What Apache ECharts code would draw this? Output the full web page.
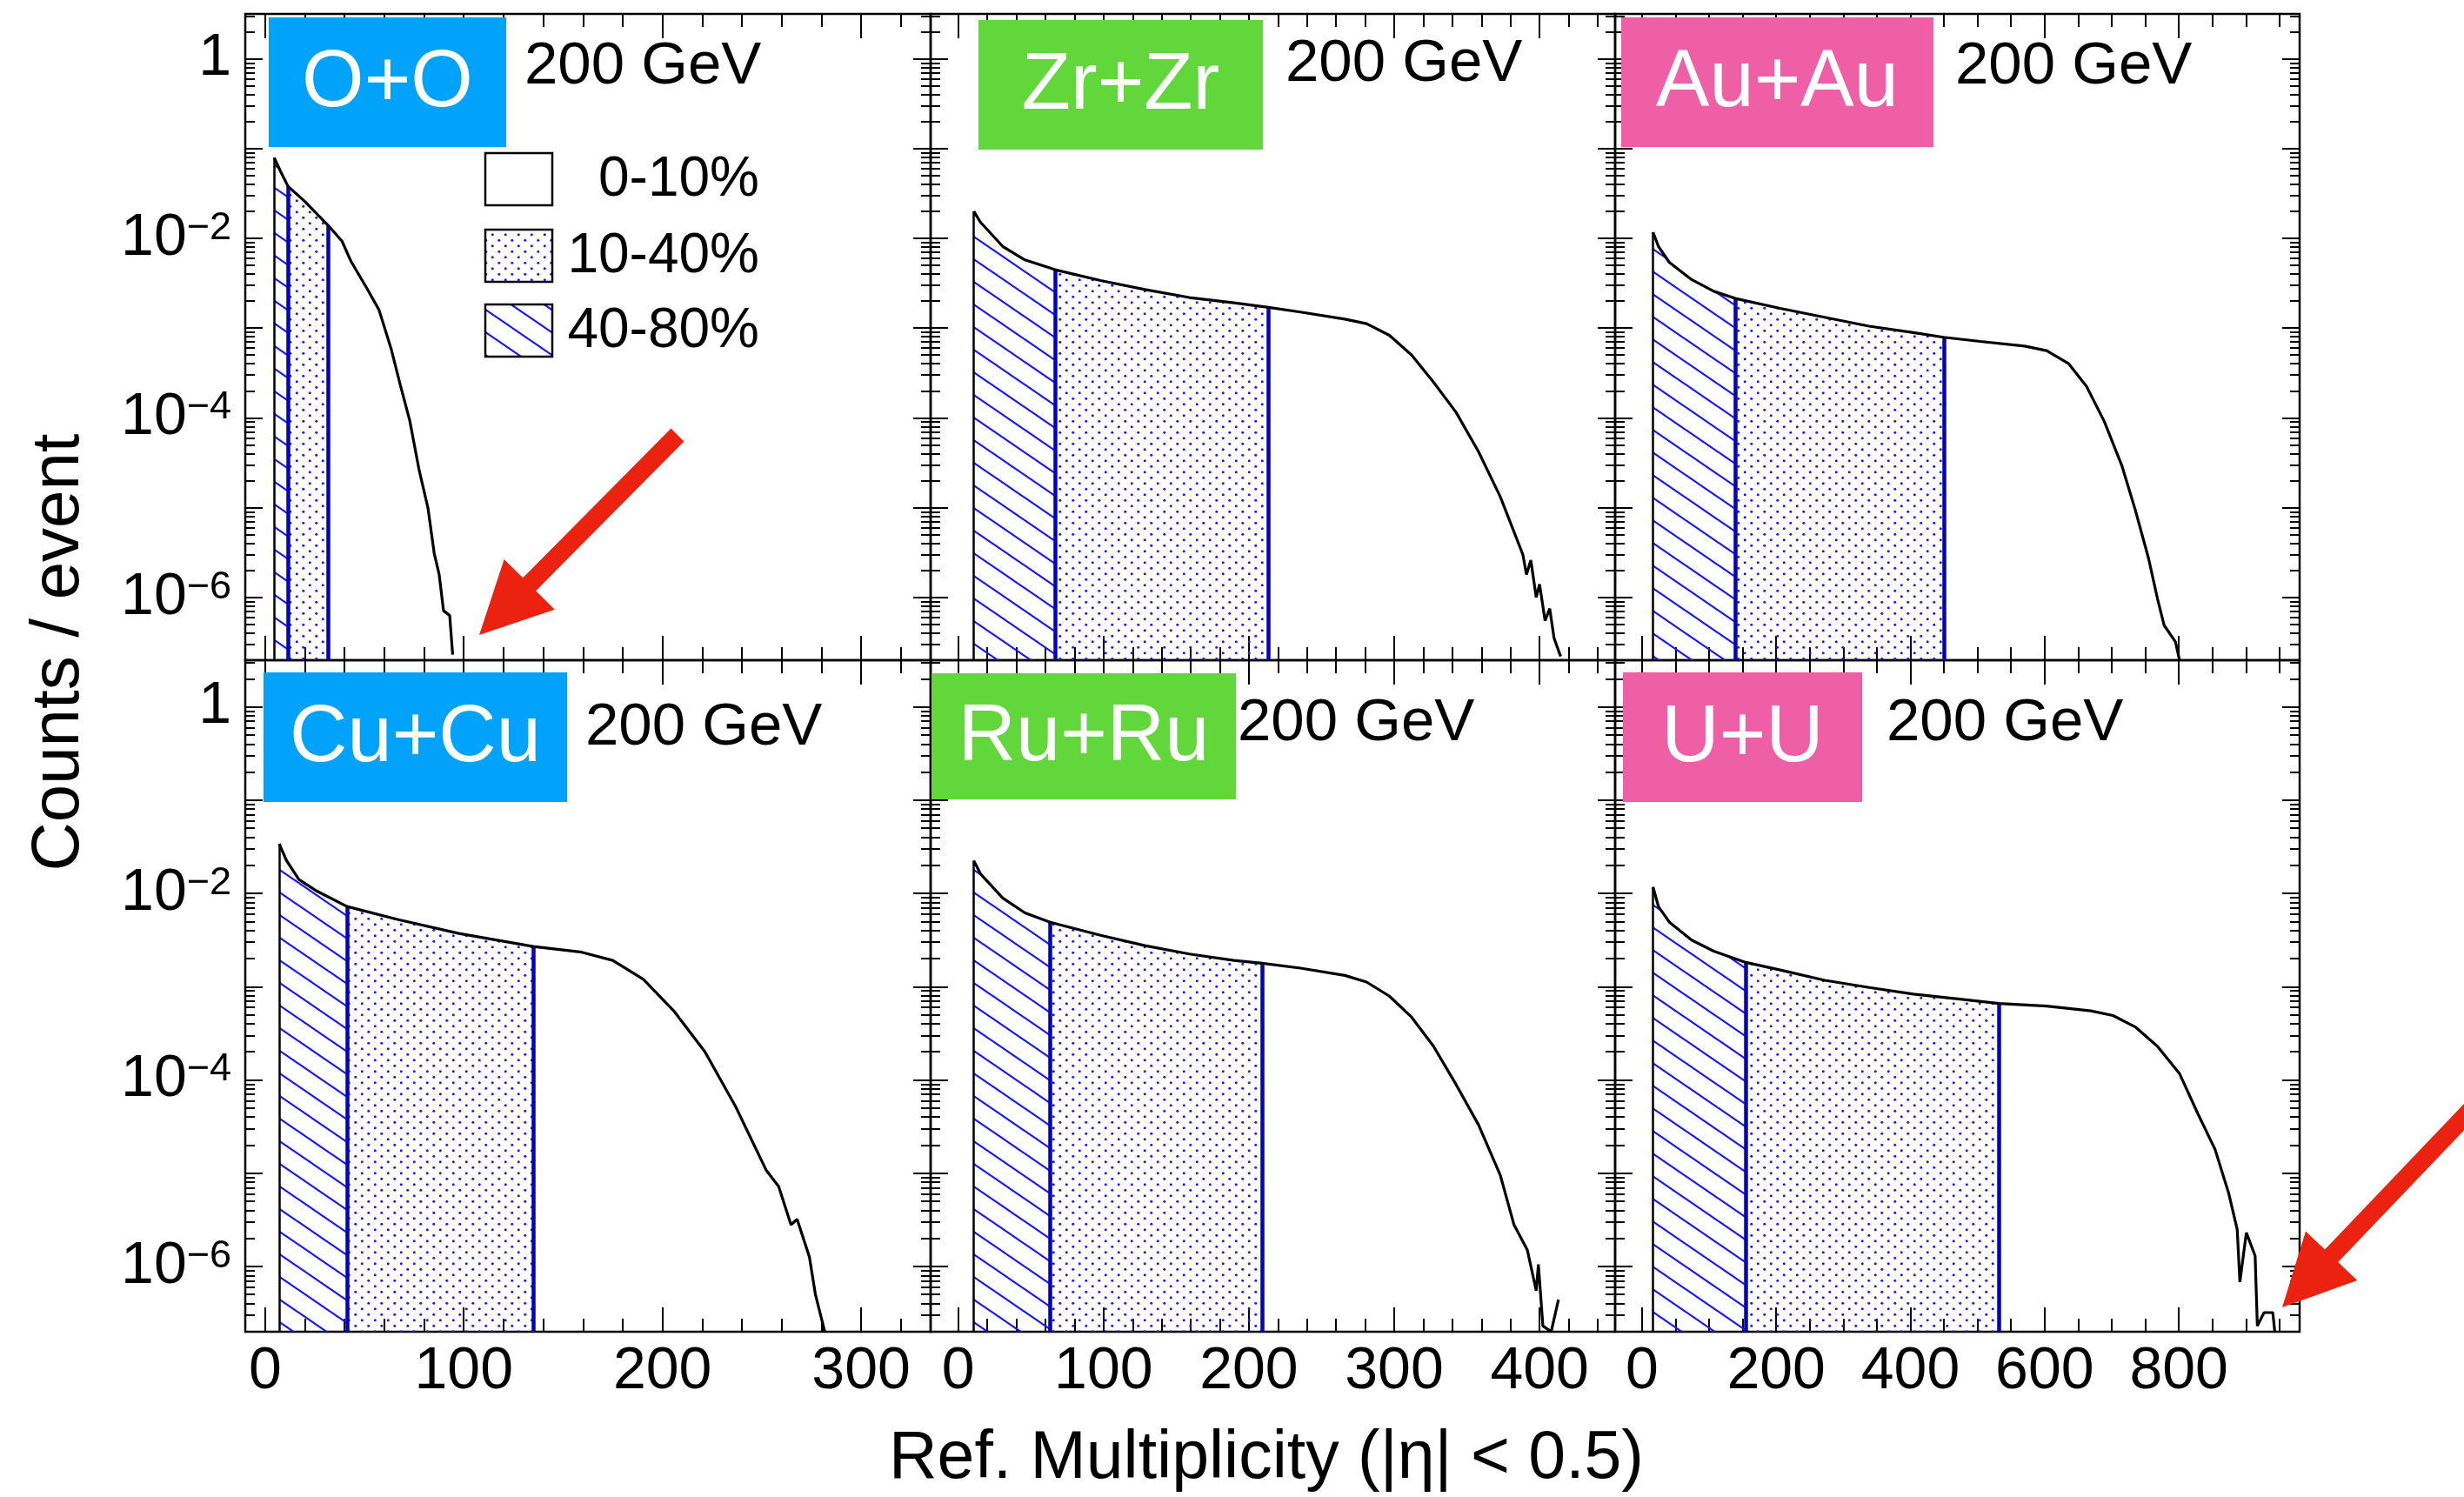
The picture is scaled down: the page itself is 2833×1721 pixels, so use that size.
<!DOCTYPE html>
<html>
<head>
<meta charset="utf-8">
<script src="https://cdn.jsdelivr.net/npm/echarts@6/dist/echarts.min.js"></script>
<style>
  html, body { margin: 0; padding: 0; background: #fff; }
  #chart { width: 2833px; height: 1721px; }
</style>
</head>
<body>
<div id="chart"></div>
<script>
// reference multiplicity (x) and counts per event (y)
const ooX = [4.6, 7.7, 11.5, 20, 31.9, 38.7, 43.3, 51.1, 57.3, 63.5, 68.1, 72.8, 77.4, 82.0, 85.1, 87.6, 89.8, 92.9, 94.4];
const ooY = [0.079, 0.056, 0.038, 0.0257, 0.0138, 0.0093, 0.0055, 0.0028, 0.0016, 5.8e-4, 2.3e-4, 9.3e-5, 2.7e-5, 9.8e-6, 3.1e-6, 1.8e-6, 7.1e-7, 6.3e-7, 2.3e-7];
const ooCut = [4.6, 11.5, 31.9];

const zrX = [10.7, 15.3, 30.6, 45.9, 66.7, 97.9, 128.5, 159, 189.7, 213.5, 235.5, 266, 281, 296.7, 312, 327, 342.6, 358, 373, 388.5, 391, 394, 397.7, 400, 403.8, 407, 410, 414.5];
const zrY = [0.0200, 0.0151, 0.00813, 0.00575, 0.00447, 0.00339, 0.00269, 0.00219, 0.00191, 0.00170, 0.00151, 0.00126, 0.00112, 8.3e-4, 5.0e-4, 2.5e-4, 1.15e-4, 4.2e-5, 1.32e-5, 3.0e-6, 1.8e-6, 2.6e-6, 1.0e-6, 1.4e-6, 5.5e-7, 7.5e-7, 3.5e-7, 2.2e-7];
const zrCut = [10.7, 66.7, 213.5];

const auX = [16.5, 24.5, 41, 74, 107, 139, 206, 272, 338.5, 404.6, 449.6, 504, 570, 603, 636, 662.5, 689, 715, 735, 755, 768, 778, 795, 801];
const auY = [0.0117, 0.00813, 0.00537, 0.00347, 0.00257, 0.00214, 0.00166, 0.00132, 0.00105, 8.9e-4, 7.9e-4, 7.1e-4, 6.3e-4, 5.6e-4, 4.0e-4, 2.24e-4, 9.1e-5, 2.95e-5, 9.5e-6, 2.7e-6, 9.8e-7, 4.9e-7, 3.2e-7, 2.0e-7];
const auCut = [16.5, 139, 449.6];

const cuX = [7.1, 10.8, 17, 26.3, 41.2, 66.6, 97.5, 135, 159.4, 175, 190.4, 206, 221.4, 236.8, 252.3, 258.5, 264.7, 267.8, 274, 277, 281.7];
const cuY = [0.0339, 0.0224, 0.0141, 0.0105, 0.00724, 0.00525, 0.00372, 0.00269, 0.00234, 0.00191, 0.00120, 5.4e-4, 2.0e-4, 5.2e-5, 1.07e-5, 7.2e-6, 2.8e-6, 3.2e-6, 1.26e-6, 5.0e-7, 1.9e-7];
const cuCut = [7.1, 41.2, 135];

const ruX = [10.7, 15.3, 30.6, 45.9, 63.3, 97.9, 128.5, 159, 189.7, 209, 235.5, 266, 281, 296.7, 312, 327, 342.6, 358, 373, 382.4, 391.6, 397.7, 399.2, 402.3, 408, 413];
const ruY = [0.0224, 0.0162, 0.00891, 0.00617, 0.0049, 0.00355, 0.00275, 0.00224, 0.00191, 0.00178, 0.00158, 0.00132, 0.00112, 7.9e-4, 4.7e-4, 2.3e-4, 8.9e-5, 3.3e-5, 9.5e-6, 2.8e-6, 1.5e-6, 5.5e-7, 1.05e-6, 2.3e-7, 2.0e-7, 4.4e-7];
const ruCut = [10.7, 63.3, 209];

const uuX = [16.5, 24.5, 41, 74, 107, 154.7, 206, 272.4, 338.5, 404.6, 470.7, 532, 603, 669, 702, 735, 768, 801, 828, 854, 874, 887, 891, 900.6, 913.7, 917, 927, 940, 943];
const uuY = [0.0117, 0.00724, 0.0049, 0.00316, 0.0024, 0.00182, 0.00151, 0.00117, 9.8e-4, 8.3e-4, 7.4e-4, 6.6e-4, 6.2e-4, 5.5e-4, 4.9e-4, 3.7e-4, 2.3e-4, 1.17e-4, 4.4e-5, 1.8e-5, 6.2e-6, 2.5e-6, 6.8e-7, 2.3e-6, 1.3e-6, 2.3e-7, 3.2e-7, 3.2e-7, 2.0e-7];
const uuCut = [16.5, 154.7, 532];

// axis ranges and tick labels per column
const xRanges = [[-10, 335], [-19, 452], [-40, 980]];
const xMajors = [[0, 100, 200, 300], [0, 100, 200, 300, 400], [0, 200, 400, 600, 800]];
const xMinorSteps = [20, 20, 50];
const yMajors = [-6, -5, -4, -3, -2, -1, 0];
const yLabels = [-6, -4, -2, 0];
const yMinLog = -6.7, yMaxLog = 0.5;

const systems = ['O+O', 'Zr+Zr', 'Au+Au', 'Cu+Cu', 'Ru+Ru', 'U+U'];
const energyText = '200 GeV';
const legendNames = ['0-10%', '10-40%', '40-80%'];

// layout (pixels)
const colLeft = [282, 1070, 1857];
const colW = [788, 787, 787];
const rowTop = [16, 759];
const rowH = [743, 772];
const FONT = '"Liberation Sans", Arial, Helvetica, sans-serif';
const tagColors = ['#00A2FA', '#62D73B', '#EE5FA5', '#00A2FA', '#62D73B', '#EE5FA5'];
const tagBoxes = [[309, 20, 273, 149], [1125, 23, 327, 149], [1864, 20, 359, 149],
                  [303, 773, 349, 149], [1071, 774, 350, 145], [1866, 773, 275, 149]];
const energyPos = [[603, 77], [1478, 74], [2248, 77], [673, 837], [1423, 832], [2169, 832]];

const panelData = [[ooX, ooY, ooCut], [zrX, zrY, zrCut], [auX, auY, auCut],
                   [cuX, cuY, cuCut], [ruX, ruY, ruCut], [uuX, uuY, uuCut]];

function toLog(v) { return v > 0 ? Math.max(Math.log10(v), yMinLog) : yMinLog; }

function minorTicks(lo, hi, step, majors) {
  const out = [];
  for (let v = Math.ceil(lo / step) * step; v <= hi; v += step) {
    if (majors.indexOf(v) < 0) out.push(v);
  }
  return out;
}
const yMinors = [];
for (let n = -7; n <= 0; n++) {
  for (let k = 2; k <= 9; k++) {
    const v = n + Math.log10(k);
    if (v > yMinLog && v < yMaxLog) yMinors.push(v);
  }
}

// fill patterns
function hatchTile() {
  const c = document.createElement('canvas');
  c.width = 38; c.height = 26;
  const g = c.getContext('2d');
  g.strokeStyle = '#1616ff';
  g.lineWidth = 2.2;
  [-26, 0, 26].forEach(function (dy) {
    g.beginPath();
    g.moveTo(-2, dy - 2 * 26 / 38);
    g.lineTo(40, dy + 26 + 2 * 26 / 38);
    g.stroke();
  });
  return c;
}
function dotTile() {
  const c = document.createElement('canvas');
  c.width = 15; c.height = 13;
  const g = c.getContext('2d');
  g.fillStyle = '#1a1aff';
  [[3.75, 3.25], [11.25, 9.75]].forEach(function (p) {
    g.beginPath();
    g.arc(p[0], p[1], 1.5, 0, Math.PI * 2);
    g.fill();
  });
  return c;
}
const hatch = { image: hatchTile(), repeat: 'repeat' };
const dots = { image: dotTile(), repeat: 'repeat' };

const grids = [], xAxes = [], yAxes = [], series = [];
const tickStyle = { color: '#000', width: 2 };

panelData.forEach(function (pd, i) {
  const r = Math.floor(i / 3), c = i % 3;
  grids.push({
    left: colLeft[c], top: rowTop[r], width: colW[c], height: rowH[r],
    show: true, borderColor: '#000', borderWidth: 2.5, backgroundColor: 'transparent',
    containLabel: false, outerBoundsMode: 'none'
  });
  const xr = xRanges[c];
  const xMin = minorTicks(xr[0], xr[1], xMinorSteps[c], xMajors[c]);
  ['bottom', 'top'].forEach(function (pos) {
    [[xMajors[c], 28], [xMin, 15]].forEach(function (t, j) {
      xAxes.push({
        gridIndex: i, type: 'value', position: pos, min: xr[0], max: xr[1],
        splitLine: { show: false }, axisLine: { show: false, onZero: false },
        axisTick: { show: true, inside: true, length: t[1], customValues: t[0], lineStyle: tickStyle },
        axisLabel: (pos === 'bottom' && j === 0 && r === 1) ? {
          show: true, customValues: xMajors[c], margin: 12, color: '#000',
          fontSize: 68, fontFamily: FONT
        } : { show: false }
      });
    });
  });
  ['left', 'right'].forEach(function (pos) {
    [[yMajors, 20], [yMinors, 11]].forEach(function (t, j) {
      yAxes.push({
        gridIndex: i, type: 'value', position: pos, min: yMinLog, max: yMaxLog,
        splitLine: { show: false }, axisLine: { show: false, onZero: false },
        axisTick: { show: true, inside: true, length: t[1], customValues: t[0], lineStyle: tickStyle },
        axisLabel: (pos === 'left' && j === 0 && c === 0) ? {
          show: true, customValues: yLabels, margin: 16, color: '#000',
          fontFamily: FONT,
          formatter: function (v) {
            return v === 0 ? '{b|1}' : '{b|10}{s|\u2212' + Math.round(-v) + '}';
          },
          rich: {
            b: { fontSize: 68, lineHeight: 68, fontFamily: FONT, color: '#000', verticalAlign: 'bottom' },
            s: { fontSize: 45, lineHeight: 45, fontFamily: FONT, color: '#000', verticalAlign: 'top' }
          }
        } : { show: false }
      });
    });
  });

  const xs = pd[0], ys = pd[1], cut = pd[2];
  const pts = xs.map(function (x, k) { return [x, toLog(ys[k])]; });
  const yAt = function (x) { return toLog(ys[xs.indexOf(x)]); };
  const inRange = function (lo, hi) { return pts.filter(function (p) { return p[0] >= lo && p[0] <= hi; }); };
  const ax = 4 * i;

  series.push({
    type: 'line', xAxisIndex: ax, yAxisIndex: ax, data: inRange(cut[0], cut[1]),
    showSymbol: false, lineStyle: { width: 0, opacity: 0 }, silent: true, z: 2,
    areaStyle: { color: hatch, opacity: 1, origin: 'start' }
  });
  series.push({
    type: 'line', xAxisIndex: ax, yAxisIndex: ax, data: inRange(cut[1], cut[2]),
    showSymbol: false, lineStyle: { width: 0, opacity: 0 }, silent: true, z: 2,
    areaStyle: { color: dots, opacity: 1, origin: 'start' }
  });
  series.push({
    type: 'line', xAxisIndex: ax, yAxisIndex: ax, data: pts,
    showSymbol: false, silent: true, z: 5,
    lineStyle: { color: '#000', width: 3.2 },
    markLine: {
      silent: true, symbol: ['none', 'none'], label: { show: false }, animation: false,
      data: cut.map(function (x, k) {
        return [
          { coord: [x, yMinLog], lineStyle: { color: k === 0 ? '#000' : '#0000c0', width: k === 0 ? 2.5 : 4.5, type: 'solid' } },
          { coord: [x, yAt(x)] }
        ];
      })
    }
  });
});

// annotations
function arrowPts(tip, tail, shaftW, headW, headL) {
  const dx = tail[0] - tip[0], dy = tail[1] - tip[1], len = Math.hypot(dx, dy);
  const ux = dx / len, uy = dy / len, px = -uy, py = ux;
  const bx = tip[0] + ux * headL, by = tip[1] + uy * headL;
  return [tip,
    [bx + px * headW / 2, by + py * headW / 2],
    [bx + px * shaftW / 2, by + py * shaftW / 2],
    [tail[0] + px * shaftW / 2, tail[1] + py * shaftW / 2],
    [tail[0] - px * shaftW / 2, tail[1] - py * shaftW / 2],
    [bx - px * shaftW / 2, by - py * shaftW / 2],
    [bx - px * headW / 2, by - py * headW / 2]];
}

const graphics = [];
systems.forEach(function (name, i) {
  const b = tagBoxes[i], e = energyPos[i];
  graphics.push({
    type: 'text', z: 90, style: {
      text: energyText, x: e[0], y: e[1], font: '69px ' + FONT, fill: '#000',
      textAlign: 'left', align: 'left', textVerticalAlign: 'middle', verticalAlign: 'middle'
    }
  });
  graphics.push({ type: 'rect', z: 100, shape: { x: b[0], y: b[1], width: b[2], height: b[3] }, style: { fill: tagColors[i] } });
  graphics.push({
    type: 'text', z: 101, style: {
      text: name, x: b[0] + b[2] / 2, y: b[1] + b[3] / 2 + 2, font: '92px ' + FONT, fill: '#fff',
      textAlign: 'center', align: 'center', textVerticalAlign: 'middle', verticalAlign: 'middle'
    }
  });
});

const legendFills = ['#fff', dots, hatch];
const legendY = [176, 264, 350];
legendNames.forEach(function (n, k) {
  graphics.push({ type: 'rect', z: 100, shape: { x: 558, y: legendY[k], width: 77, height: 60 },
    style: { fill: legendFills[k], stroke: '#000', lineWidth: 2.5 } });
  graphics.push({
    type: 'text', z: 100, style: {
      text: n, x: 873, y: legendY[k] + 31, font: '64px ' + FONT, fill: '#000',
      textAlign: 'right', align: 'right', textVerticalAlign: 'middle', verticalAlign: 'middle'
    }
  });
});

graphics.push({
  type: 'text', z: 100, x: 68, y: 750, rotation: Math.PI / 2, style: {
    text: 'Counts / event', x: 0, y: 0, font: '78px ' + FONT, fill: '#000',
    textAlign: 'center', align: 'center', textVerticalAlign: 'middle', verticalAlign: 'middle'
  }
});
graphics.push({
  type: 'text', z: 100, style: {
    text: 'Ref. Multiplicity (|\u03b7| < 0.5)', x: 1456, y: 1678, font: '77px ' + FONT, fill: '#000',
    textAlign: 'center', align: 'center', textVerticalAlign: 'middle', verticalAlign: 'middle'
  }
});

[[[551, 730], [779, 500]], [[2624, 1503], [2880, 1235]]].forEach(function (a) {
  graphics.push({ type: 'polygon', z: 110, shape: { points: arrowPts(a[0], a[1], 21, 82, 82) }, style: { fill: '#EC2210' } });
});

const chart = echarts.init(document.getElementById('chart'), null, { renderer: 'canvas' });
chart.setOption({
  animation: false,
  backgroundColor: '#fff',
  grid: grids,
  xAxis: xAxes,
  yAxis: yAxes,
  series: series,
  graphic: { elements: graphics }
});
</script>
</body>
</html>
